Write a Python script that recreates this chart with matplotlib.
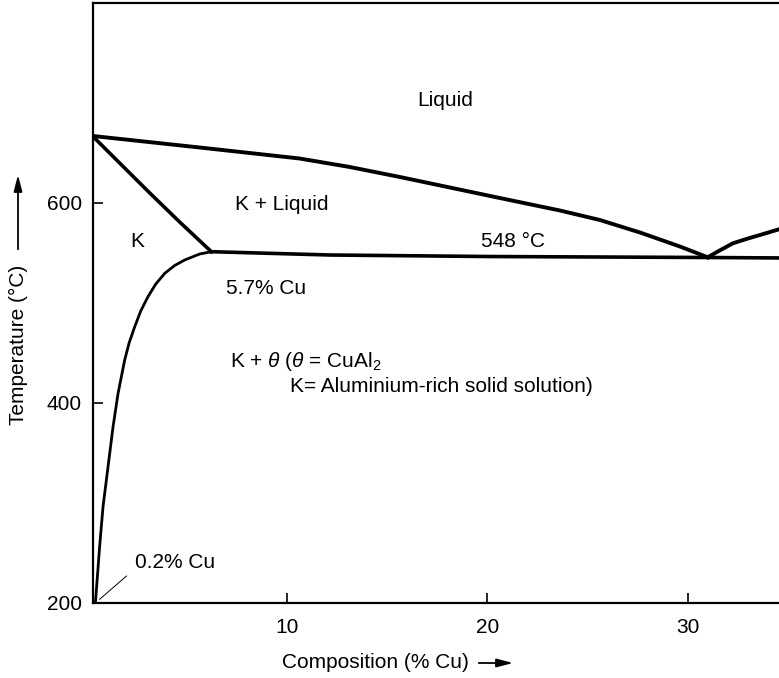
import matplotlib
matplotlib.use("Agg")
import matplotlib.pyplot as plt

plt.rcParams['font.family'] = ['Liberation Sans', 'DejaVu Sans']
plt.rcParams['mathtext.fontset'] = 'custom'
plt.rcParams['mathtext.rm'] = 'Liberation Sans'
plt.rcParams['mathtext.it'] = 'Liberation Sans:italic'

# liquidus (Al side)
liq_x = [0.35, 5.67, 10.65, 13.15, 15.65, 18.14, 20.63, 23.63, 25.62, 27.62, 29.61, 31.0]
liq_t = [667, 655.5, 644.5, 636, 626, 615.5, 605, 592.5, 583, 570.5, 556.5, 545.7]

# liquidus rising again past the eutectic
liq2_x = [31.0, 31.5, 32.25, 33.0, 33.6, 34.55, 35.0]
liq2_t = [545.7, 551.5, 559.7, 564.5, 568, 573.7, 576]

# solidus
sol_x = [0.35, 3.18, 4.67, 6.25]
sol_t = [666.5, 610, 581, 551.3]

# solvus
solv_x = [6.25, 5.67, 4.92, 4.42, 3.93, 3.48, 3.09, 2.73, 2.43, 2.15, 1.93,
          1.60, 1.35, 1.10, 0.85, 0.68, 0.47]
solv_t = [551.3, 549, 543, 537.5, 529.7, 519, 506.3, 492, 476.3, 460, 443,
          409.7, 376.3, 336.3, 296.3, 256.3, 200]

# eutectic line
eut_x = [6.25, 12.15, 20, 31, 35]
eut_t = [551.3, 548, 546.5, 545.5, 545]

fig = plt.figure(figsize=(7.79, 6.78), dpi=100)
ax = fig.add_axes([93 / 779, 75 / 678, 686 / 779, 600 / 678])

ax.plot(liq_x, liq_t, color="black", lw=2.8, solid_joinstyle="round")
ax.plot(liq2_x, liq2_t, color="black", lw=2.8, solid_joinstyle="round")
ax.plot(sol_x, sol_t, color="black", lw=2.6, solid_joinstyle="round")
ax.plot(solv_x, solv_t, color="black", lw=2.0, solid_joinstyle="round")
ax.plot(eut_x, eut_t, color="black", lw=2.6, solid_joinstyle="round")

# leader line for 0.2% Cu
ax.plot([0.68, 2.02], [203.7, 227], color="black", lw=0.7)

ax.set_xlim(0.35, 34.55)
ax.set_ylim(200, 800)
ax.set_xticks([10, 20, 30])
ax.set_yticks([200, 400, 600])
ax.tick_params(direction="in", length=7, width=1.2, labelsize=15)
ax.tick_params(axis="x", pad=11)
ax.tick_params(axis="y", pad=8)
ax.spines["right"].set_visible(False)
for s in ["left", "bottom", "top"]:
    ax.spines[s].set_linewidth(1.6)

fs = 15
ax.text(17.9, 703, "Liquid", fontsize=fs, ha="center", va="center")
ax.text(9.75, 598, "K + Liquid", fontsize=fs, ha="center", va="center")
ax.text(2.58, 561, "K", fontsize=fs, ha="center", va="center")
ax.text(21.28, 561.3, "548 °C", fontsize=fs, ha="center", va="center")
ax.text(8.96, 514.7, "5.7% Cu", fontsize=fs, ha="center", va="center")
ax.text(7.2, 441, r"K + $\theta$ ($\theta$ = CuAl$_2$", fontsize=fs, ha="left", va="center")
ax.text(10.15, 416, "K= Aluminium-rich solid solution)", fontsize=fs, ha="left", va="center")
ax.text(2.45, 240, "0.2% Cu", fontsize=fs, ha="left", va="center")

# axis labels with arrows
fig.text(375 / 779, 1 - 663 / 678, "Composition (% Cu)", fontsize=fs, ha="center", va="center")
ax.annotate("", xy=(516 / 779, 1 - 663 / 678), xytext=(476 / 779, 1 - 663 / 678),
            xycoords="figure fraction", textcoords="figure fraction",
            arrowprops=dict(arrowstyle="-|>,head_length=0.7,head_width=0.18",
                            color="black", lw=1.3, mutation_scale=14))
fig.text(18 / 779, 1 - 345 / 678, "Temperature (°C)", fontsize=fs, ha="center", va="center",
         rotation=90)
ax.annotate("", xy=(18 / 779, 1 - 172 / 678), xytext=(18 / 779, 1 - 252 / 678),
            xycoords="figure fraction", textcoords="figure fraction",
            arrowprops=dict(arrowstyle="-|>,head_length=0.7,head_width=0.18",
                            color="black", lw=1.3, mutation_scale=14))

plt.savefig("out.png", dpi=100)
